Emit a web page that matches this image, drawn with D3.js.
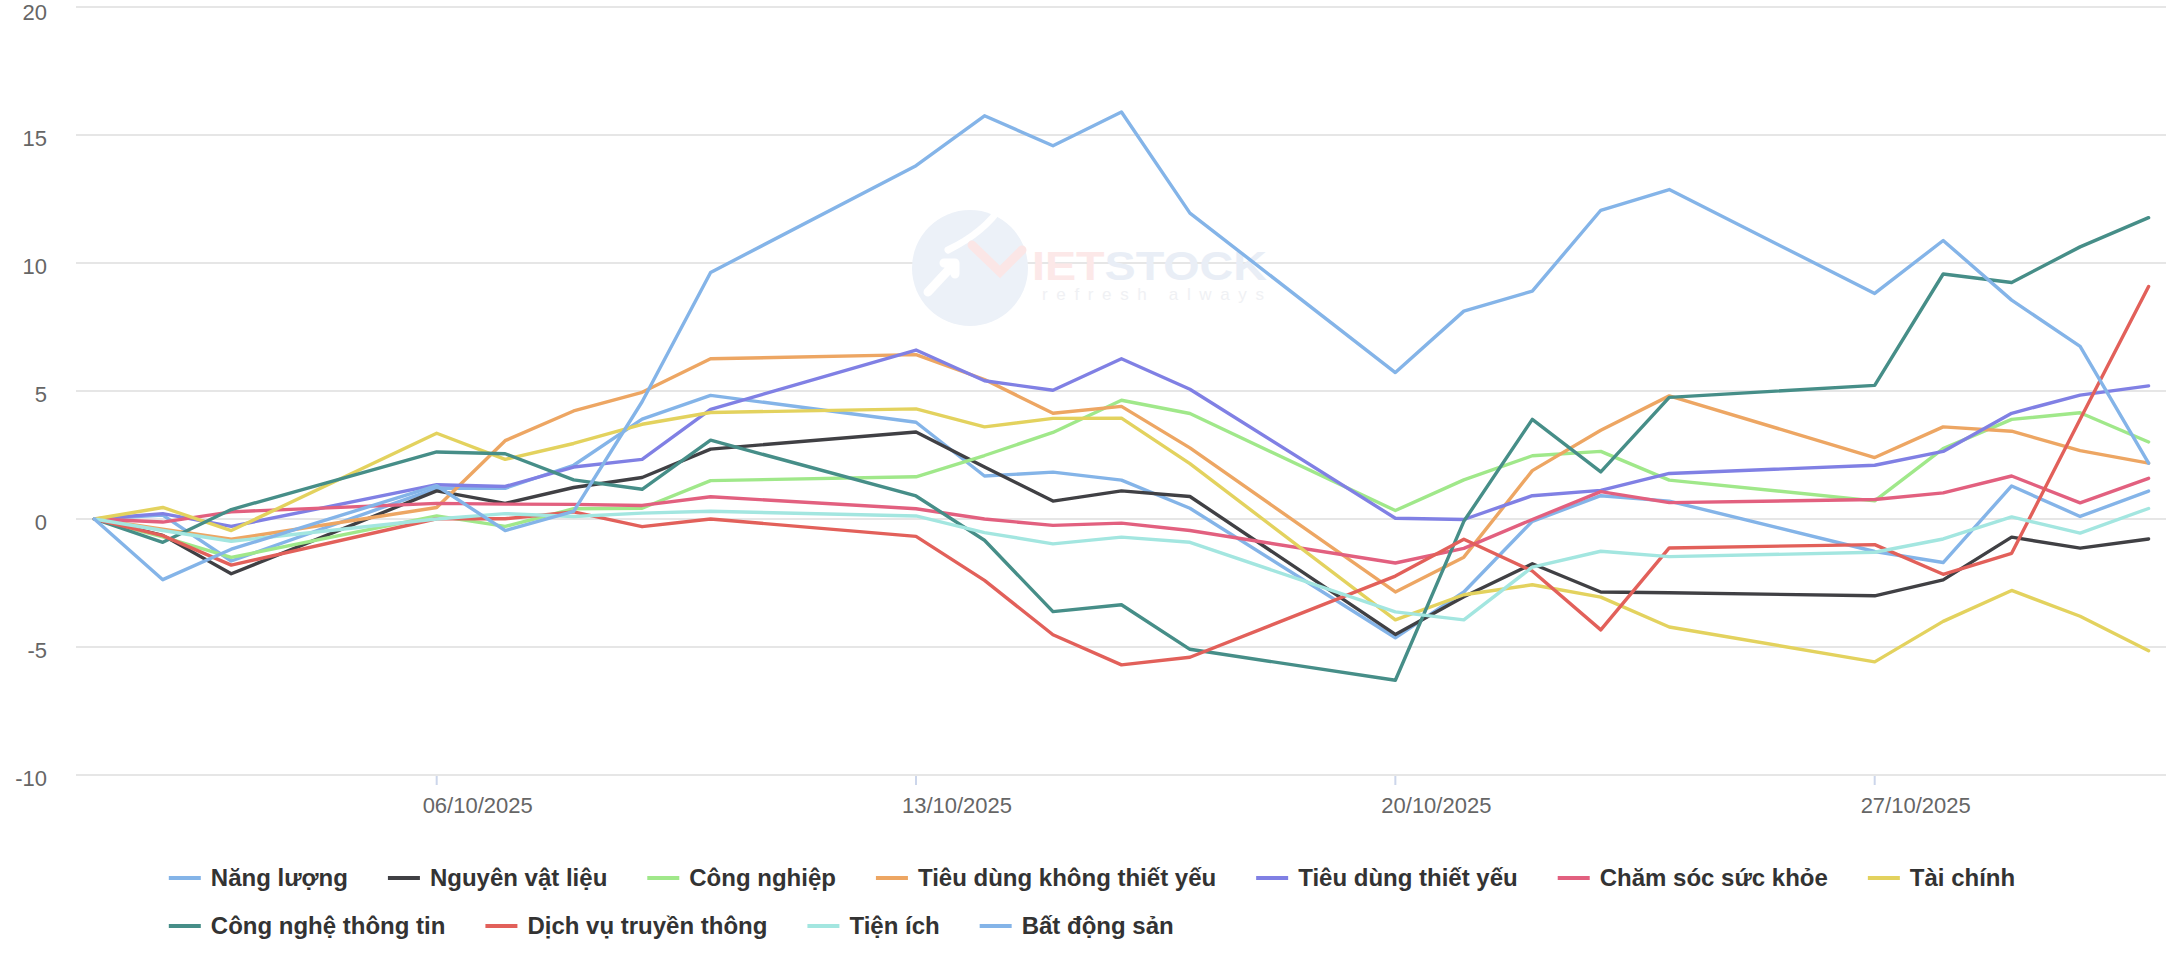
<!DOCTYPE html>
<html><head><meta charset="utf-8">
<script src="https://cdn.jsdelivr.net/npm/d3@7"></script>
<style>
html,body{margin:0;padding:0;background:#fff;overflow:hidden;}
svg{display:block;font-family:"Liberation Sans",Arial,Helvetica,sans-serif;}
</style></head>
<body><svg id="chart" width="2166" height="959"></svg>
<script>
// ---------- DATA ----------
const dates = ["2025-10-01","2025-10-02","2025-10-03","2025-10-06","2025-10-07","2025-10-08","2025-10-09","2025-10-10",
  "2025-10-13","2025-10-14","2025-10-15","2025-10-16","2025-10-17","2025-10-20","2025-10-21","2025-10-22","2025-10-23",
  "2025-10-24","2025-10-27","2025-10-28","2025-10-29","2025-10-30","2025-10-31"];

const seriesNames = ["Năng lượng","Nguyên vật liệu","Công nghiệp","Tiêu dùng không thiết yếu","Tiêu dùng thiết yếu",
  "Chăm sóc sức khỏe","Tài chính","Công nghệ thông tin","Dịch vụ truyền thông","Tiện ích","Bất động sản"];
const seriesColors = ["#84b4e8","#404044","#a0e88a","#eda663","#8080e4","#e2607f","#e3d25e","#468e88","#e2605a","#a3e6e0","#84b4e8"];

const nangLuong     = [0, 0.15, -1.64, 1.2, 1.2, 2.1, 3.9, 4.83, 3.78, 1.68, 1.83, 1.52, 0.42, -4.64, -2.85, -0.09, 0.91, 0.7, -1.27, -1.7, 1.29, 0.1, 1.09];
const nguyenVatLieu = [0, -0.64, -2.14, 1.1, 0.61, 1.23, 1.62, 2.73, 3.4, 2.03, 0.7, 1.1, 0.88, -4.51, -3.04, -1.75, -2.85, -2.88, -3.0, -2.38, -0.71, -1.14, -0.78];
const congNghiep    = [0, -0.7, -1.5, 0.12, -0.29, 0.4, 0.42, 1.5, 1.65, 2.48, 3.38, 4.64, 4.12, 0.33, 1.53, 2.47, 2.64, 1.52, 0.71, 2.75, 3.89, 4.15, 3.01];
const tieuDungKTY   = [0, -0.4, -0.79, 0.45, 3.06, 4.22, 4.95, 6.26, 6.42, 5.45, 4.13, 4.4, 2.78, -2.85, -1.49, 1.89, 3.47, 4.81, 2.4, 3.6, 3.43, 2.67, 2.18];
const tieuDungTY    = [0, 0.21, -0.29, 1.34, 1.27, 2.03, 2.33, 4.28, 6.6, 5.4, 5.03, 6.26, 5.07, 0.03, -0.02, 0.91, 1.12, 1.78, 2.1, 2.64, 4.13, 4.84, 5.2];
const chamSocSK     = [0, -0.12, 0.28, 0.61, 0.58, 0.57, 0.53, 0.87, 0.4, 0.0, -0.25, -0.16, -0.45, -1.72, -1.15, -0.02, 1.07, 0.64, 0.76, 1.02, 1.68, 0.63, 1.59];
const taiChinh      = [0, 0.45, -0.45, 3.35, 2.33, 2.95, 3.7, 4.16, 4.3, 3.6, 3.93, 3.94, 2.16, -3.94, -2.96, -2.57, -3.05, -4.22, -5.58, -4.0, -2.79, -3.8, -5.15];
const congNgheTT    = [0, -0.91, 0.37, 2.62, 2.55, 1.53, 1.16, 3.08, 0.9, -0.83, -3.62, -3.35, -5.09, -6.3, -0.09, 3.89, 1.84, 4.75, 5.22, 9.57, 9.24, 10.63, 11.77];
const dichVuTT      = [0, -0.65, -1.8, 0.01, 0.01, 0.28, -0.3, 0.0, -0.68, -2.4, -4.52, -5.7, -5.4, -2.23, -0.79, -2.03, -4.33, -1.13, -1.0, -2.16, -1.34, 3.9, 9.08];
const tienIch       = [0, -0.45, -0.87, 0.0, 0.21, 0.1, 0.23, 0.3, 0.12, -0.53, -0.97, -0.71, -0.91, -3.63, -3.94, -1.88, -1.26, -1.47, -1.3, -0.78, 0.08, -0.55, 0.41];
const batDongSan    = [0, -2.37, -1.18, 1.3, -0.45, 0.3, 4.58, 9.63, 13.8, 15.75, 14.58, 15.9, 11.95, 5.72, 8.12, 8.9, 12.06, 12.87, 8.81, 10.88, 8.55, 6.74, 2.18];

const seriesValues = [nangLuong, nguyenVatLieu, congNghiep, tieuDungKTY, tieuDungTY, chamSocSK, taiChinh, congNgheTT, dichVuTT, tienIch, batDongSan];

const yTicks = [-10, -5, 0, 5, 10, 15, 20];
const xTickLabels = ["06/10/2025", "13/10/2025", "20/10/2025", "27/10/2025"];

// ---------- LAYOUT ----------
const W = 2166, H = 959;
const plotLeft = 76, plotRight = 2167, plotTop = 7, plotBottom = 775;
const svg = d3.select("#chart");

const parseDay = d3.utcParse("%Y-%m-%d");
const parseTick = d3.utcParse("%d/%m/%Y");
const xDates = dates.map(parseDay);

const x = d3.scaleUtc().domain(d3.extent(xDates)).range([plotLeft + 18.3, plotRight - 18.4]);
const y = d3.scaleLinear().domain([-10, 20]).range([plotBottom, plotTop]);

// gridlines
svg.append("g").selectAll("line").data(yTicks).join("line")
  .attr("x1", plotLeft).attr("x2", W)
  .attr("y1", d => y(d)).attr("y2", d => y(d))
  .attr("stroke", "#e6e6e6").attr("stroke-width", 2);

// y labels
svg.append("g").selectAll("text").data(yTicks).join("text")
  .attr("x", 47).attr("y", d => Math.max(y(d) + 11, 20))
  .attr("text-anchor", "end").attr("font-size", 22).attr("fill", "#666666")
  .text(d => d);

// x ticks + labels
const xt = svg.append("g");
xt.selectAll("line").data(xTickLabels).join("line")
  .attr("x1", d => x(parseTick(d))).attr("x2", d => x(parseTick(d)))
  .attr("y1", plotBottom + 1).attr("y2", plotBottom + 10)
  .attr("stroke", "#ccd6eb").attr("stroke-width", 2);
xt.selectAll("text").data(xTickLabels).join("text")
  .attr("x", d => x(parseTick(d)) + 41).attr("y", plotBottom + 38)
  .attr("text-anchor", "middle").attr("font-size", 22).attr("fill", "#666666")
  .text(d => d);

// watermark (faint logo)
const wm = svg.append("g").attr("class", "watermark");
wm.append("circle").attr("cx", 970).attr("cy", 268).attr("r", 58).attr("fill", "#ecf1f8");
wm.append("path").attr("d", "M 928 292 L 955 263 M 955 263 L 944 263 M 955 263 L 955 274")
  .attr("stroke", "#ffffff").attr("stroke-width", 9).attr("stroke-linecap", "round").attr("fill", "none");
wm.append("path").attr("d", "M 948 250 Q 985 232 1002 205")
  .attr("stroke", "#ffffff").attr("stroke-width", 7).attr("stroke-linecap", "round").attr("fill", "none");
wm.append("path").attr("d", "M 972 245 L 1000 272 L 1022 250")
  .attr("stroke", "#fbe6e6").attr("stroke-width", 9).attr("stroke-linecap", "round").attr("fill", "none");
wm.append("text").attr("x", 1032).attr("y", 280).attr("font-size", 40).attr("font-weight", "bold")
  .attr("textLength", 235).attr("lengthAdjust", "spacingAndGlyphs")
  .selectAll("tspan").data([["IET", "#fce8e8"], ["STOCK", "#e9eef6"]]).join("tspan")
  .attr("fill", d => d[1]).text(d => d[0]);
wm.append("text").attr("x", 1042).attr("y", 300).attr("font-size", 17)
  .attr("textLength", 222).attr("lengthAdjust", "spacing").attr("fill", "#f0f1f4")
  .text("refresh always");

// lines
const line = d3.line().x((d, i) => x(xDates[i])).y(d => y(d));
svg.append("g").selectAll("path").data(seriesValues).join("path")
  .attr("d", d => line(d))
  .attr("fill", "none")
  .attr("stroke", (d, i) => seriesColors[i])
  .attr("stroke-width", 3.4)
  .attr("stroke-linejoin", "round").attr("stroke-linecap", "round");

// legend
const legend = svg.append("g").attr("font-size", 24).attr("font-weight", "bold");
const symW = 32, symPad = 10, itemDist = 40, maxRow = 2100, rowH = 48;
const meas = legend.append("text").attr("visibility", "hidden");
const widths = seriesNames.map(n => { meas.text(n); return meas.node().getComputedTextLength(); });
meas.remove();
const rows = [[]]; let cur = 0;
seriesNames.forEach((n, i) => {
  const w = symW + symPad + widths[i];
  const add = (rows[rows.length - 1].length ? itemDist : 0) + w;
  if (cur + add > maxRow && rows[rows.length - 1].length) { rows.push([]); cur = 0; }
  const r = rows[rows.length - 1];
  r.push({ i, off: cur + (r.length ? itemDist : 0) });
  cur = r[r.length - 1].off + w;
  r.width = cur;
});
const legW = d3.max(rows, r => r.width);
const legX = (W - legW) / 2 + 9;
rows.forEach((r, ri) => {
  const cy = 878 + ri * rowH;
  r.forEach(it => {
    const g = legend.append("g").attr("transform", `translate(${legX + it.off},${cy})`);
    g.append("line").attr("x1", 0).attr("x2", symW).attr("y1", 0).attr("y2", 0)
      .attr("stroke", seriesColors[it.i]).attr("stroke-width", 4);
    g.append("text").attr("x", symW + symPad).attr("y", 8).attr("fill", "#333333").text(seriesNames[it.i]);
  });
});
</script>
</body></html>
